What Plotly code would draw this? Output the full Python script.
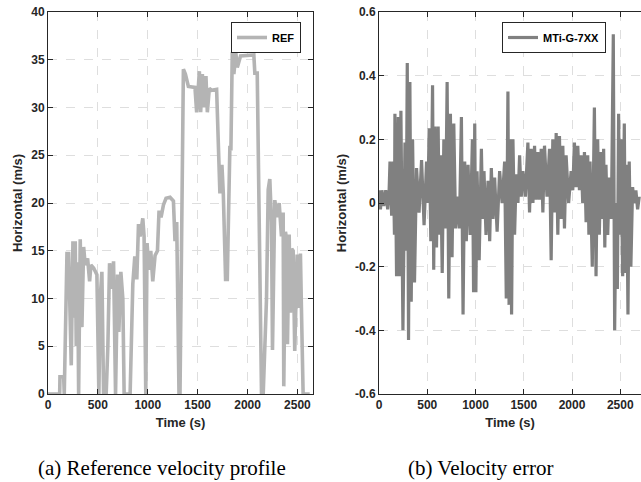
import plotly.graph_objects as go

# ---------------- data ----------------
ref_time = [0, 117, 120, 157, 163, 173, 190, 207, 233, 250,
            263, 273, 283, 297, 307, 323, 340, 357, 373, 397,
            417, 430, 457, 490, 510, 523, 540, 557, 583, 600,
            617, 637, 657, 677, 697, 710, 730, 750, 763, 823,
            850, 870, 890, 907, 923, 950, 963, 980, 993, 1010,
            1030, 1050, 1073, 1097, 1113, 1133, 1157, 1183, 1223, 1257,
            1273, 1290, 1313, 1323, 1357, 1377, 1407, 1473, 1490, 1517,
            1530, 1547, 1563, 1583, 1597, 1617, 1640, 1690, 1723, 1743,
            1757, 1780, 1797, 1823, 1833, 1847, 1863, 1883, 1897, 1930,
            2023, 2063, 2073, 2097, 2140, 2157, 2190, 2207, 2223, 2240,
            2250, 2273, 2297, 2317, 2340, 2357, 2363, 2380, 2390, 2400,
            2417, 2430, 2443, 2457, 2473, 2497, 2517, 2530, 2540, 2557,
            2623]
ref_speed = [0, 0, 1.8, 1.8, 0, 8, 14.7, 14.7, 3, 16,
             8, 16, 5, 13.8, 0, 16.2, 7, 15.4, 13.5, 14.2,
             11.8, 13.5, 13.2, 12.5, 0, 10, 12.8, 0, 0, 5,
             13.7, 11, 13.9, 0, 12.5, 6.5, 12.8, 10, 0, 0,
             11.5, 14.4, 12, 17.8, 16.5, 18.4, 16.5, 0, 15.8, 13,
             15, 11.8, 14.5, 15, 19.2, 18.5, 19.8, 20.5, 20.6, 20.2,
             16, 18, 0, 0, 34, 33.5, 32.2, 32.1, 29.5, 33.8,
             29.5, 33.5, 30, 33.3, 29.5, 32, 31.8, 31.9, 21, 24,
             21, 12, 12, 26, 25.5, 35.8, 33.5, 35.7, 34.2, 35.4,
             35.5, 35.5, 33.6, 33.6, 0, 0, 10, 21.4, 22.5, 18,
             4.6, 20.3, 18.5, 20, 16.5, 19, 0.8, 17, 16.3, 5.2,
             16.7, 8.5, 15.2, 15, 4.5, 14.6, 9, 14.7, 9, 0,
             0]

err_time = [0, 15, 30, 50, 70, 90, 105, 114, 131, 148,
            160, 165, 182, 200, 213, 227, 248, 269, 281, 293,
            306, 320, 334, 348, 368, 389, 415, 441, 467, 493,
            506, 520, 537, 555, 567, 579, 596, 613, 625, 637,
            655, 672, 689, 706, 723, 740, 757, 775, 794, 813,
            833, 854, 871, 888, 905, 923, 945, 968, 980, 992,
            1004, 1016, 1038, 1061, 1075, 1088, 1109, 1130, 1147, 1164,
            1181, 1198, 1224, 1250, 1276, 1302, 1319, 1336, 1348, 1360,
            1374, 1388, 1405, 1422, 1440, 1457, 1474, 1491, 1517, 1543,
            1560, 1577, 1595, 1612, 1629, 1646, 1663, 1681, 1698, 1715,
            1741, 1767, 1784, 1801, 1818, 1836, 1853, 1870, 1887, 1905,
            1922, 1939, 1965, 1991, 2008, 2025, 2042, 2060, 2077, 2094,
            2111, 2129, 2146, 2163, 2175, 2187, 2210, 2232, 2249, 2266,
            2283, 2301, 2314, 2328, 2340, 2352, 2370, 2387, 2408, 2428,
            2442, 2456, 2470, 2483, 2495, 2507, 2525, 2542, 2554, 2566,
            2580, 2593, 2610, 2628, 2645, 2662, 2680, 2697]
err_value = [0.04, -0.02, 0.04, -0.01, 0.04, -0.02, 0.04, 0.13, -0.04, 0.13,
             -0.1, 0.28, -0.23, 0.27, -0.23, 0.29, -0.4, 0.19, -0.15, 0.44,
             -0.43, 0.38, -0.31, 0.2, -0.25, 0.11, -0.03, 0.135, -0.07, 0.13,
             0.0, 0.235, -0.12, 0.37, -0.21, 0.24, -0.14, 0.24, -0.1, 0.15,
             -0.22, 0.2, -0.08, 0.38, -0.3, 0.28, -0.17, 0.25, -0.08, 0.02,
             -0.08, 0.27, -0.35, 0.13, -0.12, 0.12, -0.1, 0.2, -0.28, 0.25,
             -0.28, 0.1, -0.18, 0.17, -0.05, 0.1, -0.1, 0.07, -0.12, 0.11,
             -0.05, 0.08, -0.09, 0.1, 0.0, 0.13, -0.3, 0.35, -0.32, 0.2,
             -0.35, 0.2, -0.1, 0.09, 0.0, 0.15, 0.02, 0.1, 0.02, 0.19,
             -0.03, 0.17, 0.0, 0.18, 0.01, 0.16, 0.01, 0.17, -0.03, 0.18,
             0.02, 0.17, -0.18, 0.2, -0.03, 0.22, -0.1, 0.21, -0.05, 0.18,
             -0.08, 0.15, 0.0, 0.1, 0.04, 0.19, 0.05, 0.18, 0.04, 0.15,
             0.0, 0.16, -0.06, 0.15, -0.1, 0.13, -0.2, 0.3, -0.23, 0.2,
             -0.1, 0.16, -0.05, 0.17, -0.14, 0.12, -0.1, 0.08, -0.05, 0.53,
             -0.4, 0.0, -0.27, 0.28, -0.1, 0.2, -0.23, 0.25, -0.22, 0.12,
             -0.35, 0.13, -0.2, 0.05, 0.0, 0.04, -0.02, 0.02]
assert len(ref_time) == len(ref_speed), (len(ref_time), len(ref_speed))
assert len(err_time) == len(err_value), (len(err_time), len(err_value))

time_ticks = [0, 500, 1000, 1500, 2000, 2500]
ref_ticks = [0, 5, 10, 15, 20, 25, 30, 35, 40]
err_ticks = [-0.6, -0.4, -0.2, 0, 0.2, 0.4, 0.6]
err_ticklabels = ["-0.6", "-0.4", "-0.2", "0", "0.2", "0.4", "0.6"]

# ---------------- figure ----------------
W, H = 641, 482


def px(x):
    return x / W


def py(y):
    return 1 - y / H


SANS = "Liberation Sans"
SERIF = "Liberation Serif"
AXC = "#262626"
GRIDC = "#dedede"

fig = go.Figure()
fig.add_trace(go.Scatter(x=ref_time, y=ref_speed, mode="lines", name="REF",
                         line=dict(color="#b4b4b4", width=3.6),
                         xaxis="x", yaxis="y", legend="legend"))
fig.add_trace(go.Scatter(x=err_time, y=err_value, mode="lines", name="MTi-G-7XX",
                         line=dict(color="#808080", width=3.2),
                         xaxis="x2", yaxis="y2", legend="legend2"))

tickfont = dict(family=SANS, size=12, color=AXC, weight="bold")
titlefont = dict(family=SANS, size=13, color=AXC, weight="bold")

common_x = dict(tickvals=time_ticks, ticks="inside", ticklen=5, tickcolor=AXC,
                showline=True, linecolor=AXC, linewidth=1,
                showgrid=True, gridcolor=GRIDC, griddash="dash", gridwidth=1,
                zeroline=False, tickfont=tickfont, automargin=False,
                ticklabeloverflow="allow",
                title=dict(text="Time (s)", font=titlefont, standoff=6))

ydom = [py(394), py(12)]

fig.update_layout(
    width=W, height=H,
    margin=dict(l=0, r=0, t=0, b=0),
    paper_bgcolor="white", plot_bgcolor="white",
    showlegend=True,
    xaxis=dict(domain=[px(48), px(313)], range=[0, 2656], anchor="y",
               mirror="allticks", **common_x),
    yaxis=dict(domain=ydom, range=[0, 40], anchor="x",
               tickvals=ref_ticks, ticks="inside", ticklen=5, tickcolor=AXC,
               showline=True, linecolor=AXC, linewidth=1, mirror="allticks",
               showgrid=True, gridcolor=GRIDC, griddash="dash",
               zeroline=False, tickfont=tickfont, automargin=False,
               ticklabeloverflow="allow",
               title=dict(text="Horizontal (m/s)", font=titlefont, standoff=5)),
    xaxis2=dict(domain=[px(379), 1.0], range=[0, 2715], anchor="y2",
                mirror="allticks", **common_x),
    yaxis2=dict(domain=ydom, range=[-0.6, 0.6], anchor="x2",
                tickvals=err_ticks, ticktext=err_ticklabels,
                ticks="inside", ticklen=5, tickcolor=AXC,
                showline=True, linecolor=AXC, linewidth=1, mirror=False,
                showgrid=True, gridcolor=GRIDC, griddash="dash",
                zeroline=False, tickfont=tickfont, automargin=False,
                ticklabeloverflow="allow",
                title=dict(text="Horizontal (m/s)", font=titlefont, standoff=5)),
    legend=dict(x=px(301), y=py(22), xanchor="right", yanchor="top",
                bgcolor="white", bordercolor=AXC, borderwidth=1,
                font=dict(family=SANS, size=11, color="black", weight="bold"),
                tracegroupgap=0, itemwidth=30),
    legend2=dict(x=px(606), y=py(22), xanchor="right", yanchor="top",
                 bgcolor="white", bordercolor=AXC, borderwidth=1,
                 font=dict(family=SANS, size=11, color="black", weight="bold"),
                 tracegroupgap=0, itemwidth=30),
    annotations=[
        dict(text="(a) Reference velocity profile", x=px(162), y=py(468),
             xref="paper", yref="paper", xanchor="center", yanchor="middle",
             showarrow=False, font=dict(family=SERIF, size=21, color="black")),
        dict(text="(b) Velocity error", x=px(480), y=py(468),
             xref="paper", yref="paper", xanchor="center", yanchor="middle",
             showarrow=False, font=dict(family=SERIF, size=21, color="black")),
    ],
)

fig.write_html("out.html",
               config={"displayModeBar": False},
               post_script="document.body.style.margin='0px';"
                           "document.body.style.overflow='hidden';")
